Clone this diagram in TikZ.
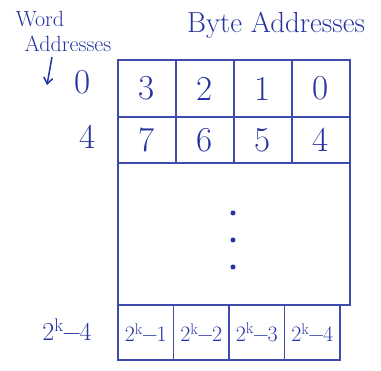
\documentclass[tikz,border=0pt]{standalone}
\usepackage{fontspec}
\usetikzlibrary{arrows.meta}
\definecolor{pen}{RGB}{38,52,160}
\definecolor{penline}{RGB}{62,74,172}
\newcommand{\twok}[1]{2\textsuperscript{k}\kern-0.05em−\kern-0.05em#1}
\begin{document}
\begin{tikzpicture}[x=1pt,y=-1pt,
  ink/.style={text=pen, inner sep=0pt},
  bigtxt/.style={ink, font=\fontsize{35}{35}\selectfont},
  midtxt/.style={ink, font=\fontsize{29}{29}\selectfont},
  smalltxt/.style={ink, font=\fontsize{22}{22}\selectfont},
  celltop/.style={draw=penline, line width=1.3pt, minimum width=58pt, minimum height=57pt, bigtxt},
  cellmid/.style={draw=penline, line width=1.3pt, minimum width=58pt, minimum height=46pt, bigtxt},
  cellbot/.style={draw=penline, line width=1.3pt, minimum width=55.5pt, minimum height=55pt, smalltxt},
  gapbox/.style={draw=penline, line width=1.3pt, minimum width=232pt, minimum height=142pt, inner sep=0pt},
  dotmark/.style={circle, fill=pen, inner sep=0pt, minimum size=5pt}
]
\useasboundingbox (0,0) rectangle (381,371);

% headings
\node[smalltxt] (word) at (40,19) {Word};
\node[smalltxt] (addr) at (68,44) {Addresses};
\node[midtxt] (byte) at (276,25) {Byte Addresses};

% arrow for word addresses
\coordinate (arrtop) at (52,57);
\coordinate (arrbot) at (47,85);
\draw[pen, line width=1.5pt, -{Straight Barb[length=6pt,width=9pt]}] (arrtop) -- (arrbot);

% word address labels
\node[bigtxt] (w0) at (83,82) {0};
\node[bigtxt] (w4) at (88,137) {4};
\node[ink, font=\fontsize{26}{26}\selectfont] (wk) at (67,330) {\twok{4}};

% first word
\node[celltop] (b3) at (147,88.5) {3};
\node[celltop] (b2) at (205,88.5) {2};
\node[celltop] (b1) at (263,88.5) {1};
\node[celltop] (b0) at (321,88.5) {0};

% second word
\node[cellmid] (b7) at (147,140) {7};
\node[cellmid] (b6) at (205,140) {6};
\node[cellmid] (b5) at (263,140) {5};
\node[cellmid] (b4) at (321,140) {4};

% middle region with dots
\node[gapbox] (gap) at (234,234) {};
\node[dotmark] (d1) at (233,213) {};
\node[dotmark] (d2) at (233,240) {};
\node[dotmark] (d3) at (233,267) {};

% last word
\node[cellbot] (k1) at (145.75,332.5) {\twok{1}};
\node[cellbot] (k2) at (201.25,332.5) {\twok{2}};
\node[cellbot] (k3) at (256.75,332.5) {\twok{3}};
\node[cellbot] (k4) at (312.25,332.5) {\twok{4}};
\end{tikzpicture}
\end{document}
